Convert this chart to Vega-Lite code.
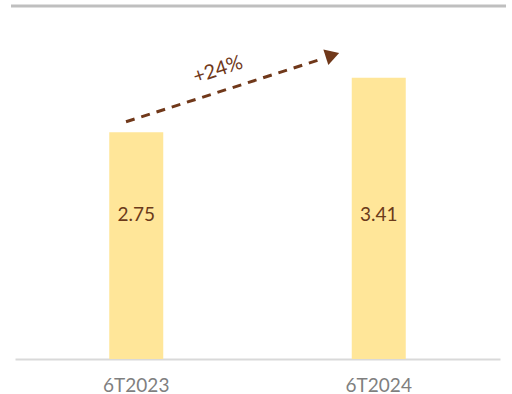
{
  "$schema": "https://vega.github.io/schema/vega-lite/v6.json",
  "width": 485,
  "height": 353,
  "autosize": {"type": "none"},
  "padding": {"left": 15, "top": 6, "right": 12, "bottom": 35},
  "background": "white",
  "config": {"view": {"stroke": null}, "font": "Lato"},
  "datasets": {
    "bars": [
      {"period": "6T2023", "value": 2.75, "label": "2.75"},
      {"period": "6T2024", "value": 3.41, "label": "3.41"}
    ],
    "arrow": [
      {"px": 0.2289, "py": 2.877},
      {"px": 0.633, "py": 3.638}
    ],
    "head": [{"px": 0.6546, "py": 3.685}],
    "note": [{"px": 0.4186, "py": 3.504, "text": "+24%"}],
    "frame": [{"x1": -0.00825, "x2": 1.0124, "yv": 4.28}]
  },
  "resolve": {"scale": {"x": "independent"}},
  "layer": [
    {
      "data": {"name": "bars"},
      "layer": [
        {
          "mark": {"type": "bar", "color": "#FFE699", "size": 54},
          "encoding": {
            "x": {
              "field": "period", "type": "nominal", "sort": null,
              "scale": {"paddingInner": 0, "paddingOuter": 0},
              "axis": {
                "title": null, "labelAngle": 0, "ticks": false,
                "domainColor": "#d9d9d9", "domainWidth": 2,
                "labelFontSize": 19, "labelColor": "#7f7f7f",
                "labelPadding": 17, "labelFont": "Lato"
              }
            },
            "y": {
              "field": "value", "type": "quantitative",
              "scale": {"domain": [0, 4.28], "nice": false},
              "axis": null
            }
          }
        },
        {
          "mark": {"type": "text", "fontSize": 19, "color": "#6B3A1A", "baseline": "middle", "align": "center"},
          "encoding": {
            "x": {"field": "period", "type": "nominal", "sort": null},
            "y": {"datum": 1.75, "type": "quantitative"},
            "text": {"field": "label"}
          }
        }
      ]
    },
    {
      "data": {"name": "frame"},
      "mark": {"type": "rule", "color": "#bfbfbf", "strokeWidth": 3},
      "encoding": {
        "x": {"field": "x1", "type": "quantitative", "scale": {"domain": [0, 1], "nice": false, "zero": false}, "axis": null},
        "x2": {"field": "x2"},
        "y": {"field": "yv", "type": "quantitative"}
      }
    },
    {
      "data": {"name": "arrow"},
      "mark": {"type": "line", "color": "#70381A", "strokeWidth": 3, "strokeDash": [9, 7]},
      "encoding": {
        "x": {"field": "px", "type": "quantitative", "scale": {"domain": [0, 1], "nice": false, "zero": false}, "axis": null},
        "y": {"field": "py", "type": "quantitative"}
      }
    },
    {
      "data": {"name": "head"},
      "mark": {"type": "point", "shape": "triangle-right", "filled": true, "color": "#70381A", "opacity": 1, "size": 260, "angle": -18},
      "encoding": {
        "x": {"field": "px", "type": "quantitative", "scale": {"domain": [0, 1], "nice": false, "zero": false}, "axis": null},
        "y": {"field": "py", "type": "quantitative"}
      }
    },
    {
      "data": {"name": "note"},
      "mark": {"type": "text", "fontSize": 20, "color": "#70381A", "angle": 342, "align": "center", "baseline": "middle"},
      "encoding": {
        "x": {"field": "px", "type": "quantitative", "scale": {"domain": [0, 1], "nice": false, "zero": false}, "axis": null},
        "y": {"field": "py", "type": "quantitative"},
        "text": {"field": "text"}
      }
    }
  ]
}
